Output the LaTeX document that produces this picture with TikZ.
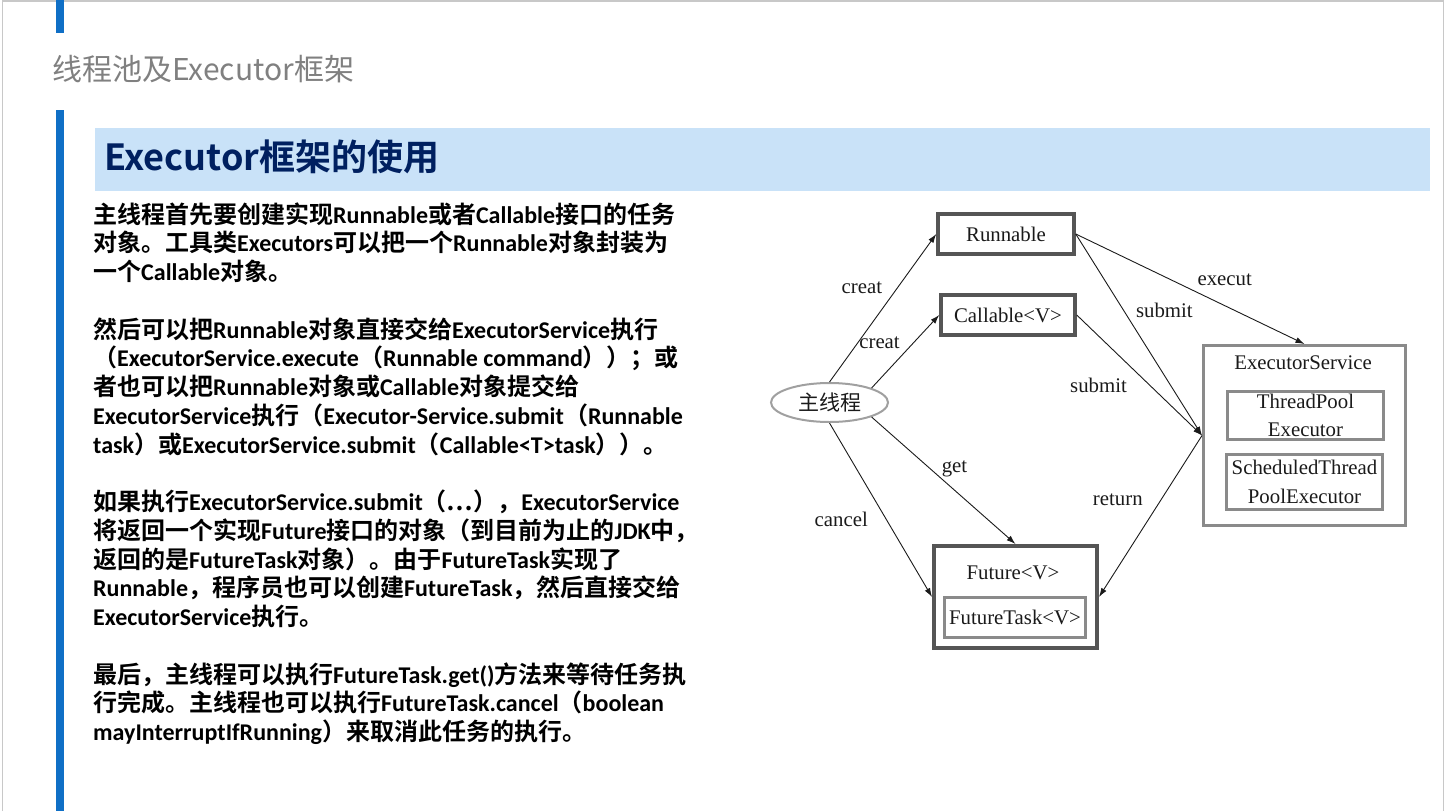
\documentclass[tikz,border=0pt]{standalone}
\usepackage{fontspec}
\usepackage{tikz}
\usetikzlibrary{arrows.meta,shapes.geometric}
\setmainfont{Carlito}
\newfontfamily\cjkfam{Noto Sans CJK SC}[BoldFont={Noto Sans CJK SC Bold}]
\newfontfamily\serifen{Liberation Serif}

% 中文字符自动换用中文字体
\newXeTeXintercharclass\cjkclass
\newcount\cjkc
\def\setcjkrange#1#2{\cjkc=#1\relax
  \loop\XeTeXcharclass\cjkc=\cjkclass\relax
  \ifnum\cjkc<#2\relax\advance\cjkc by 1\relax\repeat}
\setcjkrange{"4E00}{"9FFF}
\setcjkrange{"3000}{"303F}
\setcjkrange{"FF00}{"FFEF}
\XeTeXcharclass"2026=\cjkclass
\XeTeXinterchartoks 0 \cjkclass = {\cjkfam}
\XeTeXinterchartoks 4095 \cjkclass = {\cjkfam}
\XeTeXinterchartoks \cjkclass 0 = {\rmfamily}
\XeTeXinterchartoks \cjkclass 4095 = {\rmfamily}

\definecolor{bluebar}{RGB}{15,111,198}
\definecolor{bandblue}{RGB}{201,226,248}
\definecolor{headnavy}{RGB}{0,32,96}
\definecolor{titlegray}{RGB}{128,128,128}
\definecolor{bordergray}{RGB}{200,200,200}
\definecolor{boxdark}{RGB}{85,85,85}
\definecolor{boxgray}{RGB}{138,138,138}
\definecolor{ellgray}{RGB}{160,160,160}
\definecolor{diagtext}{RGB}{26,26,26}

\newcommand\bodytext{\rmfamily\bfseries\fontsize{24}{28.75}\selectfont\XeTeXinterchartokenstate=1 }
\newcommand\diagfont{\serifen\fontsize{20.8}{28}\selectfont}

\begin{document}
\begin{tikzpicture}[x=1pt,y=-1pt,
    para/.style={anchor=base west, inner sep=0pt, align=left, font=\bodytext},
    darkbox/.style={draw=boxdark, line width=3.5pt, fill=white, inner sep=0pt, font=\diagfont, text=diagtext},
    graybox/.style={draw=boxgray, line width=3pt, fill=white, inner sep=0pt, align=center, font=\diagfont, text=diagtext},
    lbl/.style={inner sep=0pt, font=\diagfont, text=diagtext},
    arr/.style={-{Latex[length=9pt,width=6pt]}, line width=0.9pt, draw=diagtext}]
        \useasboundingbox (0,0) rectangle (1445,811);

        % 幻灯片边框和蓝色竖条
        \draw[bordergray, line width=1.5pt] (2.5,811) -- (2.5,1) -- (1443.5,1) -- (1443.5,811);
        \fill[bluebar] (56,0) rectangle (64,33);
        \fill[bluebar] (56,110) rectangle (64,811);
        \fill[bandblue] (95,128) rectangle (1430,191);

        % 标题
        \node[anchor=base west, inner sep=0pt, text=titlegray, font=\cjkfam\fontsize{30}{36}\selectfont] (title) at (52,80) {线程池及Executor框架};
        \node[anchor=base west, inner sep=0pt, text=headnavy, font=\cjkfam\bfseries\fontsize{36}{43}\selectfont] (head) at (104,170) {Executor框架的使用};

        % 左侧正文（基线取每段最后一行）
        \node[para] (p1) at (93,280.5) {主线程首先要创建实现Runnable或者Callable接口的任务\\
          对象。工具类Executors可以把一个Runnable对象封装为\\
          一个Callable对象。};
        \node[para] (p2) at (93,453) {然后可以把Runnable对象直接交给ExecutorService执行\\
          （ExecutorService.execute（Runnable command））；或\\
          者也可以把Runnable对象或Callable对象提交给\\
          ExecutorService执行（Executor-Service.submit（Runnable\\
          task）或ExecutorService.submit（Callable<T>task））。};
        \node[para] (p3) at (93,625.5) {如果执行ExecutorService.submit（…），ExecutorService\\
          将返回一个实现Future接口的对象（到目前为止的JDK中，\\
          返回的是FutureTask对象）。由于FutureTask实现了\\
          Runnable，程序员也可以创建FutureTask，然后直接交给\\
          ExecutorService执行。};
        \node[para] (p4) at (93,740.5) {最后，主线程可以执行FutureTask.get()方法来等待任务执\\
          行完成。主线程也可以执行FutureTask.cancel（boolean\\
          mayInterruptIfRunning）来取消此任务的执行。};

        % 右侧示意图各框的中心
        \coordinate (R) at (1006,234);     % Runnable
        \coordinate (C) at (1008,315);     % Callable<V>
        \coordinate (M) at (829.5,402.5);  % 主线程
        \coordinate (E) at (1304.5,435.5); % ExecutorService
        \coordinate (F) at (1015.5,597);   % Future<V>

        \node[darkbox, minimum width=136pt, minimum height=40pt] (run) at (R) {Runnable};
        \node[darkbox, minimum width=134pt, minimum height=40pt] (call) at (C) {Callable<V>};
        \node[ellipse, draw=ellgray, line width=2pt, minimum width=117pt, minimum height=39pt, inner sep=0pt,
              text=diagtext, font=\cjkfam\fontsize{21}{24}\selectfont] (main) at (M) {主线程};

        % ExecutorService 及其中的两个实现
        \node[graybox, minimum width=202pt, minimum height=180pt] (es) at (E) {};
        \node[lbl] (estitle) at (1303,363) {ExecutorService};
        \node[graybox, minimum width=156pt, minimum height=48pt] (tp) at (1305.5,415.5) {ThreadPool\\Executor};
        \node[graybox, minimum width=156pt, minimum height=55pt, font=\serifen\fontsize{20.8}{29}\selectfont] (sch) at (1304.5,482) {ScheduledThread\\PoolExecutor};

        % Future 及 FutureTask
        \node[darkbox, line width=4pt, minimum width=163pt, minimum height=102pt] (fut) at (F) {};
        \node[lbl] (futtitle) at (1013,573) {Future<V>};
        \node[graybox, minimum width=141pt, minimum height=40pt] (ft) at (1015,617.5) {FutureTask<V>};

        % 箭头
        \draw[arr] (main.north) -- (run.west) node[lbl, pos=0.64, xshift=-36pt] {creat};
        \draw[arr] (main.north east) -- (call.west) node[lbl, pos=0.62, xshift=-34pt] {creat};
        \draw[arr] (main.south east) -- (fut.north) node[lbl, pos=0.5, xshift=11pt, yshift=12pt] {get};
        \draw[arr] (main.south) -- (fut.west) node[lbl, pos=0.554, xshift=-45pt] {cancel};
        \draw[arr] (run.east) -- (es.north) node[lbl, pos=0.651, yshift=26pt] {execut};
        \draw[arr] (run.east) -- (es.west) node[lbl, pos=0.377, xshift=41pt] {submit};
        \draw[arr] (call.east) -- (es.west) node[lbl, pos=0.581, xshift=-51pt] {submit};
        \draw[arr] (es.west) -- (fut.east) node[lbl, pos=0.4, xshift=-43pt] {return};
      \end{tikzpicture}
\end{document}
